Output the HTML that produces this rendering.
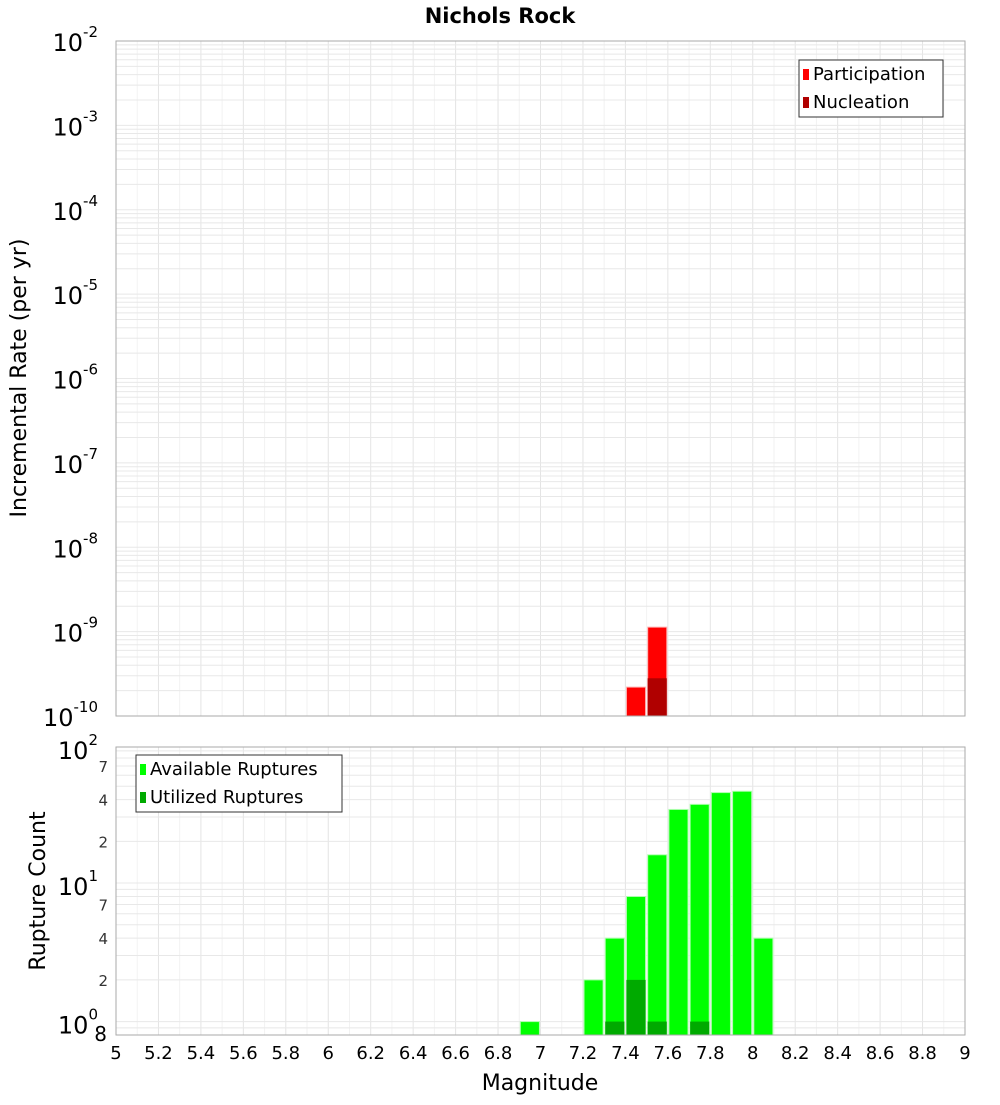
<!DOCTYPE html>
<html><head><meta charset="utf-8"><style>
body{margin:0;background:#fff;width:1000px;height:1100px;overflow:hidden}
svg{font-family:"DejaVu Sans","Liberation Sans",sans-serif}
</style></head><body>
<svg id="c" width="1000" height="1100"></svg>
<script>
const topMags=[7.45,7.55];
const participation=[2.2e-10,1.13e-9];
const nucMags=[7.55];
const nucleation=[2.8e-10];
const botMags=[6.95,7.25,7.35,7.45,7.55,7.65,7.75,7.85,7.95,8.05];
const available=[1,2,4,8,16,34,37,45,46,4];
const utilMags=[7.35,7.45,7.55,7.75];
const utilized=[1,2,1,1];
const xTicks=[5,5.2,5.4,5.6,5.8,6,6.2,6.4,6.6,6.8,7,7.2,7.4,7.6,7.8,8,8.2,8.4,8.6,8.8,9];
const topExps=[-10,-9,-8,-7,-6,-5,-4,-3,-2];

const NS="http://www.w3.org/2000/svg";
const svg=document.getElementById('c');
function el(t,a,p){const e=document.createElementNS(NS,t);for(const k in a)e.setAttribute(k,a[k]);(p||svg).appendChild(e);return e;}
const X0=116,X1=965;
const x=v=>X0+(v-5)/4*(X1-X0);
const T0=41,T1=716;
const yT=v=>T1-(Math.log10(v)+10)/8*(T1-T0);
const B0=747,B1=1035,bMin=Math.log10(0.8),bMax=Math.log10(96);
const yB=v=>B1-(Math.log10(v)-bMin)/(bMax-bMin)*(B1-B0);

// title
let t=el('text',{x:500,y:23,'text-anchor':'middle','font-size':21,'font-weight':'bold'});t.textContent='Nichols Rock';


// grids
const g=el('g',{stroke:'#e8e8e8','stroke-width':1});

for(let v=5;v<=9.001;v+=0.1){el('line',{x1:x(v),x2:x(v),y1:T0,y2:T1,stroke:Math.round(v*10)%2==0?'#e4e4e4':'#f2f2f2'},g);el('line',{x1:x(v),x2:x(v),y1:B0,y2:B1,stroke:Math.round(v*10)%2==0?'#e4e4e4':'#f2f2f2'},g);}
for(let e=-10;e<-2;e++)for(let m=1;m<10;m++){const yy=yT(m*Math.pow(10,e));el('line',{x1:X0,x2:X1,y1:yy,y2:yy},g);}
for(let e=-1;e<2;e++)for(let m=1;m<10;m++){const v=m*Math.pow(10,e);if(v<0.8||v>96)continue;const yy=yB(v);el('line',{x1:X0,x2:X1,y1:yy,y2:yy},g);}

// top bars
const bw=0.09*(X1-X0)/4;
participation.forEach((v,i)=>{const r=el('rect',{x:x(topMags[i])-bw/2,y:yT(v),width:bw,height:T1-yT(v),fill:'#ff0000',stroke:'#ffb0b0','stroke-width':1});
});
nucleation.forEach((v,i)=>{const r=el('rect',{x:x(nucMags[i])-bw/2,y:yT(v),width:bw,height:T1-yT(v),fill:'#b00000'});
});
// bottom bars
available.forEach((v,i)=>{const r=el('rect',{x:x(botMags[i])-bw/2,y:yB(v),width:bw,height:B1-yB(v),fill:'#00ff00',stroke:'#b0ffb0','stroke-width':1});
});
utilized.forEach((v,i)=>{const r=el('rect',{x:x(utilMags[i])-bw/2,y:yB(v),width:bw,height:B1-yB(v),fill:'#00aa00'});
});

// frames
let f=el('rect',{x:X0,y:T0,width:X1-X0,height:T1-T0,fill:'none',stroke:'#aaa'});

f=el('rect',{x:X0,y:B0,width:X1-X0,height:B1-B0,fill:'none',stroke:'#aaa'});


// top y labels
topExps.forEach(e=>{const yy=yT(Math.pow(10,e));const tt=el('text',{x:98,y:yy+10,'text-anchor':'end','font-size':24});

tt.textContent='10';const s=el('tspan',{'font-size':15,dy:-14},tt);s.textContent=String(e);});
// bottom y labels
[[1,'0'],[10,'1'],[100,'2']].forEach(([v,e])=>{const yy=v==100?B0:yB(v);const tt=el('text',{x:98,y:yy+12,'text-anchor':'end','font-size':24});

tt.textContent='10';const s=el('tspan',{'font-size':15,dy:-14},tt);s.textContent=e;});
[2,4,7,20,40,70,0.8].forEach(v=>{const tt=el('text',{x:v==0.8?107:108,y:yB(v)+(v==0.8?6:6),'text-anchor':'end','font-size':v==0.8?20:15,fill:v==0.8?'#000':'#333'});

tt.textContent=String(v==0.8?8:String(v)[0]);});
// x labels
xTicks.forEach(v=>{const tt=el('text',{x:x(v),y:1059,'text-anchor':'middle','font-size':18});

tt.textContent=String(v);});
t=el('text',{x:540,y:1090,'text-anchor':'middle','font-size':22});t.textContent='Magnitude';

t=el('text',{x:0,y:0,'text-anchor':'middle','font-size':22,transform:'translate(26,378) rotate(-90)'});t.textContent='Incremental Rate (per yr)';

t=el('text',{x:0,y:0,'text-anchor':'middle','font-size':22,transform:'translate(45,891) rotate(-90)'});t.textContent='Rupture Count';


// legends
function legend(bx,by,w,items,name){const lg=el('g',{});
el('rect',{x:bx,y:by,width:w,height:57,fill:'#fff',stroke:'#333'},lg);
items.forEach((it,i)=>{el('rect',{x:bx+4,y:by+9+i*28,width:6,height:11,fill:it[1]},lg);
const tt=el('text',{x:bx+14,y:by+20+i*28,'font-size':18},lg);tt.textContent=it[0];
});}
legend(799,60,144,[['Participation','#ff0000'],['Nucleation','#b00000']],'top-legend');
legend(136,755,206,[['Available Ruptures','#00ff00'],['Utilized Ruptures','#00aa00']],'bottom-legend');
</script>
</body></html>
